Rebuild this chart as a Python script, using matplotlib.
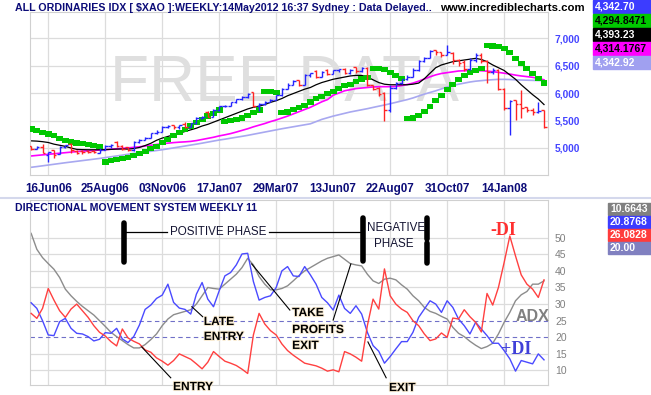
import matplotlib
matplotlib.use('Agg')
import matplotlib.pyplot as plt
from matplotlib.patches import Rectangle
import matplotlib.patheffects as pe

plt.rcParams['font.family'] = ['Liberation Sans', 'DejaVu Sans']

W, H = 651, 395

date_labels = ['16Jun06', '25Aug06', '03Nov06', '17Jan07', '29Mar07', '13Jun07', '22Aug07', '31Oct07', '14Jan08']
date_pos = [3, 13, 23, 33, 43, 53, 63, 73, 83]

opens = [5030, 4985, 5010, 4880, 4960, 4890, 5015, 5080, 4950, 4945, 4950, 4945, 4905, 4965, 5030, 5100, 5045, 5010, 4960, 5100,
         5150, 5190, 5265, 5300, 5380, 5410, 5380, 5440, 5390, 5450, 5540, 5660, 5570, 5700, 5760, 5770, 5830, 5890, 5920, 6010,
         5760, 5800, 5840, 5880, 5960, 6080, 6150, 6230, 6150, 6330, 6400, 6300, 6420, 6350, 6410, 6440, 6360, 6470, 6400, 6460,
         6140, 6100, 6000, 5690, 6100, 6180, 6260, 6300, 6420, 6580, 6640, 6780, 6740, 6700, 6730, 6600, 6560, 6440, 6600, 6700,
         6580, 6380, 6420, 6080, 5720, 5870, 5800, 5740, 5700, 5650, 5690]
highs = [5040, 5035, 5075, 4935, 4965, 5035, 5060, 5085, 4965, 4960, 4965, 4960, 4995, 5055, 5070, 5120, 5055, 5020, 5120, 5165,
         5200, 5275, 5320, 5400, 5420, 5420, 5420, 5480, 5460, 5560, 5590, 5670, 5710, 5770, 5790, 5840, 5900, 5940, 6000, 6020,
         5810, 5850, 5890, 5970, 6090, 6175, 6240, 6240, 6350, 6370, 6410, 6400, 6430, 6420, 6440, 6450, 6440, 6480, 6480, 6480,
         6150, 6115, 6010, 6150, 6200, 6260, 6330, 6450, 6600, 6660, 6790, 6790, 6750, 6875, 6740, 6610, 6600, 6640, 6720, 6720,
         6600, 6450, 6440, 6090, 5870, 5880, 6050, 5750, 5720, 5840, 5690]
lows = [4955, 4975, 4900, 4750, 4810, 4890, 4995, 4900, 4895, 4895, 4900, 4905, 4900, 4960, 5000, 5020, 4955, 4940, 4950, 5090,
        5140, 5180, 5260, 5295, 5370, 5350, 5350, 5360, 5380, 5440, 5530, 5560, 5560, 5680, 5740, 5760, 5820, 5880, 5910, 5740,
        5680, 5790, 5830, 5870, 5950, 6070, 6140, 6130, 6140, 6300, 6280, 6290, 6330, 6340, 6380, 6340, 6350, 6360, 6390, 6120,
        6050, 5940, 5500, 5660, 6070, 6170, 6240, 6290, 6400, 6570, 6630, 6700, 6660, 6690, 6520, 6500, 6400, 6420, 6560, 6540,
        6190, 6340, 6050, 5690, 5240, 5510, 5540, 5650, 5600, 5630, 5360]
closes = [4990, 5010, 4915, 4920, 4880, 5015, 5055, 4960, 4915, 4920, 4925, 4925, 4965, 5030, 5060, 5040, 4990, 4960, 5100, 5150,
          5190, 5265, 5300, 5380, 5400, 5380, 5410, 5390, 5450, 5540, 5570, 5570, 5700, 5760, 5770, 5830, 5890, 5920, 5990, 5760,
          5800, 5840, 5880, 5960, 6080, 6150, 6220, 6150, 6330, 6360, 6300, 6380, 6350, 6410, 6430, 6360, 6420, 6400, 6460, 6140,
          6080, 5990, 5700, 6100, 6180, 6250, 6300, 6420, 6580, 6640, 6770, 6740, 6700, 6740, 6600, 6540, 6440, 6600, 6700, 6580,
          6380, 6420, 6080, 5720, 5860, 5800, 5720, 5690, 5650, 5670, 5380]

sar = [5345, 5315, 5285, 5255, 5230, 5170, 5140, 5110, 5090, 5075, 5060, 5045, 5030, 4745, 4770, 4790, 4810, 4830, 4860, 4900,
       4940, 4990, 5030, 5100, 5160, 5220, 5280, 5340, 5400, 5460, 5520, 5580, 5620, 5690, 5475, 5497, 5515, 5545, 5597, 5650,
       5690, 6030, 6025, 6015, 5640, 5655, 5705, 5735, 5775, 5835, 5900, 5935, 5995, 6025, 6085, 6135, 6160, 6205, 6255, 6280,
       6450, 6450, 6420, 6370, 6320, 6270, 5530, 5545, 5590, 5660, 5750, 5860, 5960, 6060, 6160, 6250, 6320, 6370, 6410, 6445,
       6870, 6855, 6840, 6810, 6730, 6630, 6540, 6450, 6350, 6260, 6180]

ma_fast = [5130, 5125, 5115, 5100, 5070, 5050, 5030, 5000, 4975, 4970, 4968, 4968, 4968, 4970, 4975, 4980, 4982, 4980, 4990, 5010,
           5045, 5085, 5140, 5180, 5210, 5240, 5270, 5300, 5330, 5360, 5400, 5430, 5470, 5510, 5550, 5590, 5630, 5670, 5710, 5740,
           5760, 5790, 5830, 5860, 5900, 5950, 5990, 6030, 6070, 6100, 6150, 6190, 6220, 6250, 6270, 6290, 6310, 6320, 6320, 6290,
           6240, 6190, 6160, 6150, 6150, 6150, 6150, 6160, 6180, 6260, 6360, 6460, 6510, 6540, 6570, 6585, 6600, 6615, 6630, 6610,
           6570, 6510, 6460, 6410, 6330, 6250, 6150, 6060, 5970, 5890, 5790]
ma_mid = [4855, 4865, 4875, 4885, 4895, 4905, 4915, 4925, 4935, 4942, 4950, 4956, 4963, 4970, 4978, 4986, 4994, 5002, 5012, 5022,
          5035, 5050, 5065, 5078, 5088, 5098, 5106, 5112, 5120, 5135, 5155, 5175, 5195, 5220, 5240, 5262, 5290, 5320, 5350, 5385,
          5415, 5445, 5480, 5510, 5545, 5580, 5620, 5660, 5700, 5740, 5790, 5840, 5880, 5960, 6000, 6040, 6060, 6080, 6090, 6100,
          6110, 6115, 6115, 6115, 6120, 6135, 6155, 6180, 6215, 6255, 6295, 6330, 6355, 6370, 6385, 6400, 6405, 6408, 6408, 6405,
          6398, 6388, 6375, 6360, 6345, 6325, 6310, 6298, 6285, 6265, 6240]
ma_slow = [4649, 4662, 4676, 4690, 4704, 4718, 4732, 4745, 4758, 4771, 4784, 4797, 4810, 4825, 4840, 4855, 4870, 4886, 4902, 4915,
           4928, 4941, 4954, 4968, 4985, 5002, 5019, 5036, 5053, 5070, 5088, 5107, 5126, 5145, 5160, 5178, 5195, 5212, 5230, 5250,
           5270, 5290, 5310, 5330, 5350, 5368, 5386, 5404, 5422, 5440, 5480, 5520, 5550, 5580, 5605, 5630, 5655, 5675, 5695, 5715,
           5738, 5760, 5782, 5805, 5830, 5855, 5880, 5910, 5945, 5980, 6010, 6040, 6075, 6110, 6135, 6160, 6180, 6200, 6215, 6225,
           6235, 6242, 6248, 6248, 6245, 6240, 6236, 6233, 6230, 6227, 6224]

adx = [51.3, 46.5, 44.0, 42.2, 40.5, 38.0, 34.5, 32.5, 30.8, 29.3, 28.0, 26.7, 25.0, 23.3, 21.5, 20.2, 19.0, 17.8, 16.8, 16.8,
       17.8, 19.3, 21.0, 23.5, 25.5, 26.8, 27.3, 27.8, 28.3, 30.0, 32.5, 35.0, 34.7, 34.5, 36.0, 37.5, 39.0, 41.0, 43.8, 41.8,
       38.3, 36.0, 34.3, 34.3, 34.7, 35.5, 37.0, 38.6, 40.0, 41.0, 42.0, 43.0, 43.8, 44.3, 44.8, 43.5, 42.2, 41.8, 41.5, 39.0,
       37.0, 36.2, 37.5, 37.8, 37.3, 35.8, 34.5, 32.5, 31.0, 29.0, 27.8, 27.2, 26.3, 25.5, 23.0, 21.2, 20.2, 18.8, 17.6, 16.6,
       17.2, 18.2, 21.0, 24.5, 27.5, 31.0, 32.8, 33.8, 36.0, 36.0, 37.0]
plus_di = [30.4, 28.7, 25.0, 20.7, 20.5, 24.7, 25.7, 22.7, 21.2, 21.0, 20.2, 18.9, 19.4, 21.4, 21.2, 22.7, 19.5, 18.4, 20.2, 23.7,
           28.4, 29.7, 31.7, 32.7, 36.0, 30.5, 28.8, 28.4, 27.0, 33.0, 36.5, 31.5, 29.2, 34.0, 38.5, 39.5, 41.8, 45.1, 45.3, 36.8,
           31.2, 32.0, 32.5, 35.0, 40.0, 41.3, 38.5, 38.3, 41.3, 38.8, 36.0, 32.0, 30.4, 28.2, 32.7, 28.7, 27.2, 29.5, 27.0, 21.5,
           17.5, 15.8, 12.2, 14.2, 16.5, 18.7, 18.7, 21.5, 26.0, 28.5, 31.0, 30.0, 27.5, 31.0, 29.0, 25.5, 23.5, 21.0, 24.5, 22.5,
           20.5, 18.2, 18.2, 16.0, 13.5, 9.8, 13.0, 12.5, 12.0, 15.0, 13.2]
minus_di = [27.2, 25.7, 28.7, 34.7, 31.2, 28.0, 26.0, 28.5, 30.0, 28.0, 26.0, 23.5, 21.5, 20.4, 18.7, 17.4, 22.5, 19.8, 18.8, 18.0,
            16.2, 15.5, 13.8, 12.8, 11.6, 13.0, 15.0, 14.2, 13.4, 12.0, 10.5, 12.5, 15.7, 14.2, 12.8, 12.2, 11.5, 10.4, 9.1, 20.7,
            27.2, 24.0, 22.0, 20.7, 18.0, 16.0, 14.6, 13.4, 12.2, 11.8, 11.4, 10.7, 9.8, 10.2, 9.6, 15.7, 15.0, 14.0, 12.8, 23.5,
            31.5, 28.5, 40.6, 32.5, 30.0, 28.5, 27.5, 25.0, 23.5, 21.0, 19.0, 19.5, 21.3, 20.0, 25.8, 25.5, 28.3, 26.2, 24.5, 21.6,
            33.2, 29.7, 35.0, 42.5, 50.5, 44.5, 38.8, 36.0, 34.5, 32.0, 37.3]

top_legend = [('4,342.70', '#3c3cff', 'white'), ('4,294.8471', '#00c800', 'black'), ('4,393.23', '#000000', 'white'),
              ('4,314.1767', '#ff00ff', 'black'), ('4,342.92', '#a0a0f0', 'white')]
bottom_legend = [('10.6643', '#808080', 'white'), ('20.8768', '#3c3cff', 'white'),
                 ('26.0828', '#ff3c3c', 'white'), ('20.00', '#8080c0', 'white')]

up_col = '#2424ff'
down_col = '#ff2424'
navy = '#0c0c78'
grid_col = '#dcdcdc'


def fx(px):
    return px / W


def fy(py):
    return 1 - py / H


fig = plt.figure(figsize=(W / 100, H / 100), dpi=100)
fig.patch.set_facecolor('white')

ax = fig.add_axes([fx(30), fy(175), fx(548) - fx(30), fy(12) - fy(175)])
ax2 = fig.add_axes([fx(30), fy(385), fx(548) - fx(30), fy(200) - fy(385)])

n = len(closes)
x = list(range(n))
for a in (ax, ax2):
    a.set_xlim(-0.2, 90.7)
    for s in a.spines.values():
        s.set_color('#d0d0d0')
        s.set_linewidth(0.8)
    for p in date_pos:
        a.axvline(p, color=grid_col, lw=0.9, zorder=0)

# price panel
ax.set_ylim(4509, 7473)
for lvl in [5000, 5500, 6000, 6500, 7000]:
    ax.axhline(lvl, color=grid_col, lw=0.9, zorder=0)
ax.text(44.5, 6165, 'FREE DATA', fontsize=46, color='#dfdfdf', ha='center', va='center', zorder=0.5)

ax.plot(x, ma_slow, color='#a8a8f0', lw=1.2, zorder=2)
ax.plot(x, ma_mid, color='#ff00ff', lw=1.2, zorder=2)
ax.plot(x, ma_fast, color='black', lw=0.9, zorder=2)
ax.bar(x, [95] * n, bottom=[v - 47 for v in sar], width=1.2, color='#00c800', zorder=3)

cols = [up_col if c >= o else down_col for o, c in zip(opens, closes)]
ax.vlines(x, lows, highs, colors=cols, lw=1.0, zorder=4)
ax.hlines(opens, [i - 0.45 for i in x], x, colors=cols, lw=1.0, zorder=4)
ax.hlines(closes, x, [i + 0.45 for i in x], colors=cols, lw=1.0, zorder=4)

ax.yaxis.tick_right()
ax.set_yticks([5000, 5500, 6000, 6500, 7000])
ax.set_yticklabels(['5,000', '5,500', '6,000', '6,500', '7,000'], fontweight='bold', fontsize=7.4, color='#4646ff')
ax.set_xticks(date_pos)
ax.set_xticklabels(date_labels, fontweight='bold', fontsize=8.4, color=navy)
ax.tick_params(length=0, pad=5)
ax.tick_params(axis='x', pad=6)

# directional movement panel
ax2.set_ylim(5.63, 61.35)
for lvl in [10, 15, 30, 35, 40, 45, 50]:
    ax2.axhline(lvl, color=grid_col, lw=0.9, zorder=0)
ax2.axhline(25, color='#7070c8', lw=0.8, ls=(0, (4, 3)), zorder=1)
ax2.axhline(20, color='#7070c8', lw=0.8, ls=(0, (4, 3)), zorder=1)
ax2.plot(x, adx, color='#8c8c8c', lw=1.0, zorder=2)
ax2.plot(x, plus_di, color='#4a4aff', lw=1.0, zorder=3)
ax2.plot(x, minus_di, color='#ff4040', lw=1.0, zorder=3)

ax2.yaxis.tick_right()
ax2.set_yticks([10, 15, 20, 25, 30, 35, 40, 45, 50])
ax2.set_yticklabels(['10', '15', '20', '25', '30', '35', '40', '45', '50'], fontsize=7.5, color='#808080')
ax2.set_xticks([])
ax2.tick_params(length=0, pad=5)

# phase markers
ax2.plot([16.3, 16.3], [42.7, 54.4], color='black', lw=4, solid_capstyle='round', zorder=5)
ax2.plot([16.6, 23.8], [51.7, 51.7], color='black', lw=0.9, zorder=5)
ax2.text(24.4, 51.7, 'POSITIVE PHASE', fontsize=8.4, color='#141432', va='center', ha='left', zorder=5)
ax2.plot([41.7, 57.7], [51.7, 51.7], color='black', lw=0.9, zorder=5)
ax2.plot([58.2, 58.2], [43.0, 55.9], color='black', lw=4, solid_capstyle='round', zorder=5)
ax2.text(64.0, 52.9, 'NEGATIVE', fontsize=8.4, color='#141432', va='center', ha='center', zorder=5)
ax2.text(63.7, 48.1, 'PHASE', fontsize=8.4, color='#141432', va='center', ha='center', zorder=5)
ax2.plot([69.5, 69.5], [49.5, 55.9], color='black', lw=4, solid_capstyle='round', zorder=5)
ax2.plot([69.5, 69.5], [42.4, 48.5], color='black', lw=4, solid_capstyle='round', zorder=5)

halo = [pe.withStroke(linewidth=1.4, foreground='#f8ead0')]
lbl = dict(fontsize=8.6, fontweight='bold', color='black', va='center', ha='left', zorder=6, path_effects=halo)
ax2.text(30.3, 24.6, 'LATE', **lbl)
ax2.text(30.3, 20.1, 'ENTRY', **lbl)
ax2.plot([28.2, 30.1], [29.2, 26.2], color='black', lw=0.8, zorder=5)
ax2.text(45.8, 27.3, 'TAKE', **lbl)
ax2.text(45.8, 22.2, 'PROFITS', **lbl)
ax2.text(45.8, 17.4, 'EXIT', **lbl)
ax2.plot([38.7, 45.4], [42.1, 28.2], color='black', lw=0.8, zorder=5)
ax2.plot([53.0, 56.1], [25.2, 42.1], color='black', lw=0.8, zorder=5)
ax2.text(24.9, 5.0, 'ENTRY', clip_on=False, **lbl)
ax2.plot([19.4, 24.5], [17.1, 7.8], color='black', lw=0.8, zorder=5)
ax2.text(62.8, 4.7, 'EXIT', clip_on=False, **lbl)
ax2.plot([59.1, 62.3], [18.6, 7.8], color='black', lw=0.8, zorder=5)

ax2.text(82.8, 52.3, '-DI', fontsize=13, fontweight='bold', color='#ff3030', family='Liberation Serif',
         ha='center', va='center', zorder=6)
ax2.text(88.0, 26.4, 'ADX', fontsize=11.5, fontweight='bold', color='#808080', ha='center', va='center', zorder=6)
ax2.text(85.2, 16.2, '+DI', fontsize=13, fontweight='bold', color='#4040d8', family='Liberation Serif',
         ha='center', va='center', zorder=6)

# header texts
fig.text(fx(15), fy(8), 'ALL ORDINARIES IDX [ $XAO ]:WEEKLY:14May2012 16:37 Sydney : Data Delayed..',
         fontsize=7.7, fontweight='bold', color=navy, va='center', ha='left')
fig.text(fx(440), fy(8), 'www.incrediblecharts.com', fontsize=8.2, fontweight='bold', color='black',
         va='center', ha='left')
fig.text(fx(15), fy(208), 'DIRECTIONAL MOVEMENT SYSTEM WEEKLY 11', fontsize=7.55, fontweight='bold', color=navy,
         va='center', ha='left')
fig.add_artist(plt.Line2D([0, 1], [fy(198), fy(198)], transform=fig.transFigure, color='#d4d8ec', lw=1.5))

# value boxes
for k, (txt, bg, fg) in enumerate(top_legend):
    top = 14 * k
    fig.add_artist(Rectangle((fx(593), fy(top + 13)), fx(651) - fx(593), fy(top) - fy(top + 13),
                             transform=fig.transFigure, color=bg))
    fig.text(fx(595), fy(top + 6.5), txt, fontsize=7.5, fontweight='bold', color=fg, va='center', ha='left')
for k, (txt, bg, fg) in enumerate(bottom_legend):
    top = 203 + 13 * k
    fig.add_artist(Rectangle((fx(608), fy(top + 12)), fx(651) - fx(608), fy(top) - fy(top + 12),
                             transform=fig.transFigure, color=bg))
    fig.text(fx(610), fy(top + 6), txt, fontsize=7.5, fontweight='bold', color=fg, va='center', ha='left')

fig.savefig('out.png', dpi=100, facecolor='white')
